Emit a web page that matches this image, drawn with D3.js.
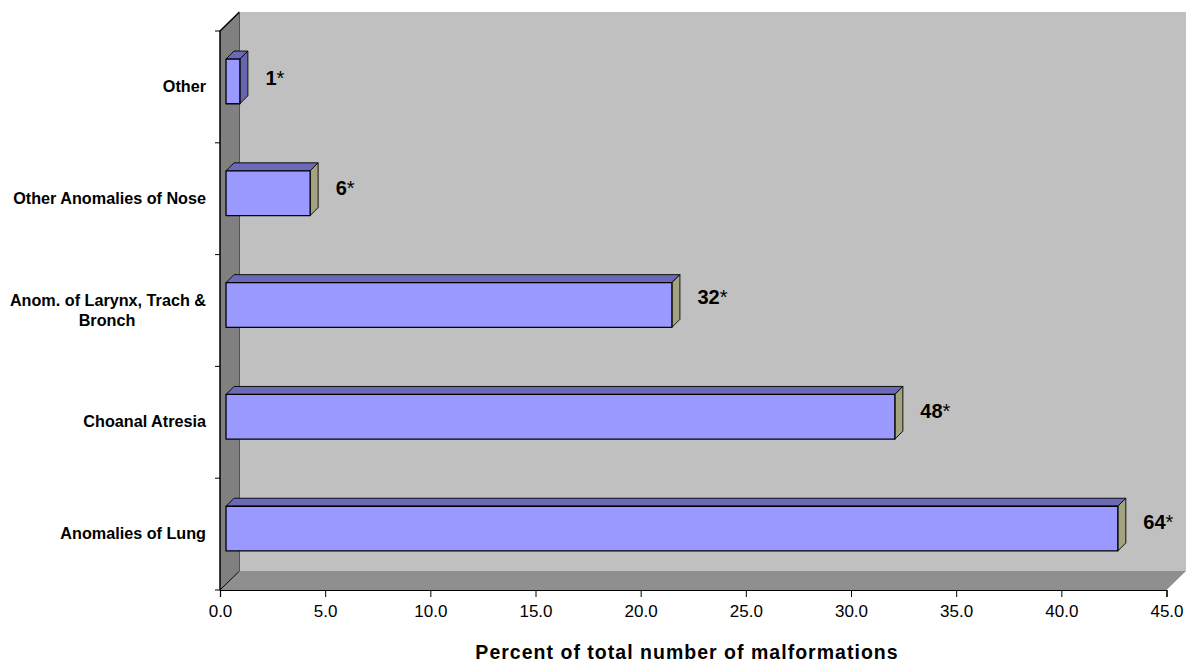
<!DOCTYPE html>
<html>
<head>
<meta charset="utf-8">
<script src="https://cdn.jsdelivr.net/npm/d3@7"></script>
<style>
  html, body { margin: 0; background: #fff; }
  text { font-family: "Liberation Sans", Arial, sans-serif; fill: #000; }
</style>
</head>
<body>
<div id="chart"></div>
<script>
// bottom to top, as on the axis
var categories = ["Anomalies of Lung", "Choanal Atresia", "Anom. of Larynx, Trach & Bronch", "Other Anomalies of Nose", "Other"];
var percents = [42.4, 31.8, 21.2, 4.0, 0.66];
var counts = ["64", "48", "32", "6", "1"];
var xTicks = [0, 5, 10, 15, 20, 25, 30, 35, 40, 45];

var W = 1190, H = 665;
var x = d3.scaleLinear().domain([0, 45]).range([220, 1166.5]);
var y = d3.scaleBand().domain(categories).range([590, 31]).paddingInner(0.6).paddingOuter(0.3);
var depth = { x: 19.5, y: 19 };           // wall/floor depth
var barDepth = { x: 8, y: 8 };            // depth of one bar
var shift = { x: 6, y: -5.5 };            // bars sit a bit inside the walls
var labelNudge = [0, 1, -1, 2, 4];        // hand placed in the original, not quite even

var svg = d3.select("#chart").append("svg").attr("width", W).attr("height", H).style("display", "block");

function poly(pts, fill, stroke, sw) {
  return svg.append("polygon").attr("points", pts.map(function (p) { return p.join(","); }).join(" "))
    .attr("fill", fill).attr("stroke", stroke || "none").attr("stroke-width", sw || 0).attr("stroke-linejoin", "round");
}

var x0 = x(0), x1 = x(45), yB = y.range()[0], yT = y.range()[1];

// back wall, left wall, floor
poly([[x0 + depth.x, yT - depth.y], [x1 + depth.x, yT - depth.y], [x1 + depth.x, yB - depth.y], [x0 + depth.x, yB - depth.y]], "#c0c0c0");
poly([[x0, yT], [x0 + depth.x, yT - depth.y], [x0 + depth.x, yB - depth.y], [x0, yB]], "#808080");
poly([[x0, yB], [x0 + depth.x, yB - depth.y], [x1 + depth.x, yB - depth.y], [x1, yB]], "#8f8f8f");

// wall edges
svg.append("path").attr("fill", "none").attr("stroke", "#000").attr("stroke-width", 1.5)
  .attr("d", "M" + x0 + "," + yB + "L" + x0 + "," + yT + "L" + (x0 + depth.x) + "," + (yT - depth.y));
svg.append("path").attr("fill", "none").attr("stroke", "#000").attr("stroke-width", 1)
  .attr("d", "M" + x0 + "," + yB + "L" + (x0 + depth.x) + "," + (yB - depth.y));
svg.append("path").attr("fill", "none").attr("stroke", "#555").attr("stroke-width", 1)
  .attr("d", "M" + (x0 + depth.x) + "," + (yT - depth.y) + "L" + (x0 + depth.x) + "," + (yB - depth.y));

// axes
var xAxis = d3.axisBottom(x).tickValues(xTicks).tickFormat(d3.format(".1f")).tickSize(7).tickPadding(3);
var gx = svg.append("g").attr("transform", "translate(0," + yB + ")").call(xAxis);
gx.select(".domain").attr("stroke", "#000").attr("stroke-width", 1.2);
gx.selectAll("text").attr("font-size", 17).attr("font-family", "'Liberation Sans', Arial, sans-serif").attr("dy", "1em");

// y ticks sit between the categories
var step = y.step();
d3.range(categories.length + 1).forEach(function (i) {
  var t = yB - i * step;
  svg.append("line").attr("x1", x0 - 5).attr("x2", x0).attr("y1", t).attr("y2", t).attr("stroke", "#000").attr("stroke-width", 1);
});

// bars
categories.forEach(function (c, i) {
  var l = x(0) + shift.x, r = x(percents[i]) + shift.x, t = y(c) + shift.y, b = t + y.bandwidth();
  var d = barDepth;
  var side = c === "Other" ? "#6666b0" : "#a3a37f";
  poly([[l, t], [l + d.x, t - d.y], [r + d.x, t - d.y], [r, t]], "#6a6ab8", "#000", 0.9);
  poly([[r, t], [r + d.x, t - d.y], [r + d.x, b - d.y], [r, b]], side, "#000", 0.9);
  poly([[l, t], [r, t], [r, b], [l, b]], "#9999ff", "#000", 1.3);

  // count label, asterisk is thinner
  var lab = svg.append("text").attr("x", r + 25.5).attr("y", t + y.bandwidth() / 2 + labelNudge[i])
    .attr("font-size", 20).attr("font-weight", "bold");
  lab.append("tspan").text(counts[i]);
  lab.append("tspan").attr("font-weight", "normal").text("*");

  // category label
  var words = c === "Anom. of Larynx, Trach & Bronch" ? ["Anom. of Larynx, Trach &", "Bronch"] : [c];
  var cy = y(c) + y.bandwidth() / 2;
  var lx = 206;
  words.forEach(function (w, j) {
    var tx = svg.append("text").attr("y", cy + 5 + (j - (words.length - 1) / 2) * 20)
      .attr("font-size", 16.2).attr("font-weight", "bold").text(w);
    if (words.length > 1 && j > 0) tx.attr("x", 107).attr("text-anchor", "middle");
    else tx.attr("x", lx).attr("text-anchor", "end");
  });
});

// x title
svg.append("text").attr("x", 687).attr("y", 659).attr("text-anchor", "middle")
  .attr("font-size", 19.5).attr("font-weight", "bold").attr("letter-spacing", "1.02px")
  .text("Percent of total number of malformations");
</script>
</body>
</html>
